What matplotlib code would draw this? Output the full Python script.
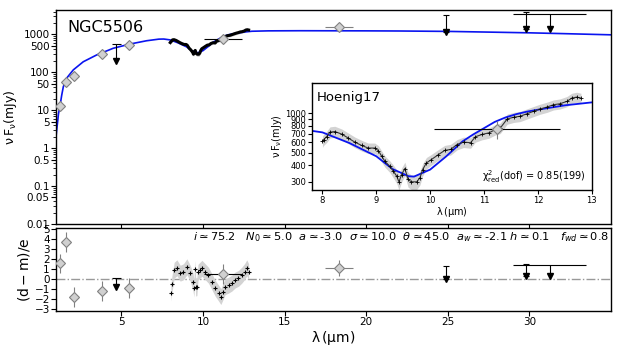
#!/usr/bin/env python3
"""
SED fit of NGC5506: photometry + spectrum with model, residuals below.
"""

import matplotlib
matplotlib.use('Agg')
import matplotlib.pyplot as plt
from matplotlib.ticker import FixedLocator, NullFormatter, NullLocator, LogLocator

# model curve (mJy)
model_wave = [1.0, 1.05, 1.1, 1.15, 1.24, 1.35, 1.45, 1.65, 2.06, 2.67, 3.49, 4.5, 5.53,
              6.55, 7.3, 7.6, 7.8, 8.0, 8.5, 9.0, 9.3, 9.6, 9.7, 10.0, 10.3, 10.6, 10.8,
              11.0, 11.2, 11.4, 11.6, 11.8, 12.0, 12.5, 13.0, 14.0, 16.0, 18.0, 20.0,
              22.0, 25.0, 28.0, 30.0, 32.0, 35.0]
model_flux = [2.0, 3.2, 5.0, 8.0, 12.6, 25, 42, 70, 116, 190, 287, 430, 557,
              680, 750, 755, 735, 715, 593, 470, 376, 331, 329, 372, 470, 610, 690,
              770, 860, 930, 985, 1030, 1065, 1150, 1211, 1240, 1250, 1245, 1240,
              1230, 1200, 1140, 1100, 1050, 975]

# spectrum (Hoenig17)
spec_wave = [8.00, 8.02, 8.08, 8.14, 8.23, 8.36, 8.48, 8.60, 8.73, 8.85, 8.97, 9.04, 9.10,
             9.16, 9.25, 9.31, 9.38, 9.42, 9.47, 9.53, 9.59, 9.65, 9.75, 9.81, 9.86, 9.93,
             10.02, 10.15, 10.27, 10.38, 10.50, 10.62, 10.75, 10.84, 10.96, 11.09, 11.21,
             11.30, 11.43, 11.55, 11.67, 11.80, 11.92, 12.04, 12.17, 12.29, 12.41, 12.54,
             12.63, 12.72, 12.80]
spec_flux = [610, 628, 665, 718, 726, 693, 647, 603, 568, 543, 543, 518, 470,
             430, 394, 365, 331, 300, 341, 379, 313, 300, 300, 322, 372, 418,
             443, 483, 521, 530, 578, 603, 596, 662, 689, 709, 751,
             770, 905, 933, 949, 993, 1035, 1078, 1116, 1162, 1182, 1233,
             1306, 1329, 1306]
spec_err = [60, 60, 65, 70, 70, 65, 60, 56, 53, 50, 50, 48, 45,
            42, 40, 40, 40, 40, 42, 45, 40, 38, 38, 38, 40, 42,
            42, 45, 48, 50, 52, 55, 55, 60, 62, 64, 68,
            70, 80, 82, 85, 88, 92, 95, 100, 102, 105, 110,
            115, 118, 115]

# photometry
phot_wave = [1.24, 1.59, 2.12, 3.8, 5.47, 11.25, 18.35]
phot_flux = [13, 55, 81, 300, 520, 757, 1530]
phot_yerr = [1.3, 5.5, 8, 30, 52, 120, 150]
phot_xerr = [0.0, 0.0, 0.0, 0.25, 0.0, 1.17, 0.85]
phot_xcol = ['gray', 'gray', 'gray', 'gray', 'gray', 'black', 'gray']

# upper limits: top of bar, arrow tip, half width
lim_wave = [4.7, 24.9, 29.8, 31.25]
lim_top = [556, 3200, 4000, 3550]
lim_tip = [200, 1150, 1380, 1380]
lim_xerr = [0.3, 0.0, 0.0, 2.25]

# residuals (d - m)/e
res_phot = [1.58, 3.74, -1.8, -1.18, -0.91, 0.52, 1.15]
res_phot_err = [1.0, 1.0, 1.0, 1.0, 1.0, 1.0, 0.8]
res_lim_top = [0.1, 1.3, 1.55, 1.4]
res_lim_tip = [-0.8, 0.0, 0.3, 0.3]

res_spec_wave = [8.04, 8.10, 8.24, 8.41, 8.61, 8.81, 9.02, 9.22, 9.39, 9.45, 9.50, 9.56,
                 9.63, 9.70, 9.82, 9.94, 10.14, 10.34, 10.55, 10.75, 10.96, 11.10, 11.22,
                 11.36, 11.57, 11.77, 11.98, 12.18, 12.38, 12.55, 12.69, 12.80]
res_spec = [-1.4, -0.5, 0.9, 1.15, 0.6, 0.75, 1.25, 0.6, -0.25, -0.9, 1.0, -0.8,
            -0.75, 0.7, 0.9, 1.1, 0.75, 0.4, -0.25, -0.9, -1.4, -1.75, -1.3,
            -0.75, -0.6, -0.4, -0.08, 0.08, 0.4, 0.75, 1.15, 0.75]
res_spec_err = [0.8, 0.8, 0.8, 0.8, 0.8, 0.8, 0.8, 0.8, 0.9, 0.9, 0.9, 0.9,
                0.9, 0.8, 0.8, 0.8, 0.8, 0.8, 0.8, 0.8, 0.8, 0.8, 0.8,
                0.8, 0.8, 0.8, 0.8, 0.8, 0.8, 0.8, 0.8, 0.8]

main_yticks = [0.01, 0.05, 0.1, 0.5, 1, 5, 10, 50, 100, 500, 1000]
main_ylabels = ['0.01', '0.05', '0.1', '0.5', '1', '5', '10', '50', '100', '500', '1000']
inset_yticks = [300, 400, 500, 600, 700, 800, 900, 1000]
params_text = (r"$i\simeq75.2$   $N_0\simeq5.0$  $a\simeq$-3.0  $\sigma\simeq10.0$  "
               r"$\theta\simeq45.0$  $a_w\simeq$-2.1 $h\simeq0.1$   $f_{wd}\simeq0.8$")

BLUE = '#0a14f0'
DFACE = '#d0d0d0'
DEDGE = '#808080'


def draw_limits(ax, tops, tips):
    for x, top, tip, xe in zip(lim_wave, tops, tips, lim_xerr):
        ax.errorbar(x, top, xerr=xe if xe > 0 else None, yerr=[[top - tip], [0]],
                    fmt='none', ecolor='k', elinewidth=0.8,
                    capsize=0 if xe > 0 else 2, capthick=0.8)
        ax.plot(x, tip, 'v', color='k', ms=4.5)


def draw_phot(ax, yvals, yerrs):
    for x, y, ye, xe, c in zip(phot_wave, yvals, yerrs, phot_xerr, phot_xcol):
        ax.errorbar(x, y, yerr=ye, fmt='none', ecolor='gray', elinewidth=0.8)
        if xe > 0:
            ax.errorbar(x, y, xerr=xe, fmt='none', ecolor=c, elinewidth=0.8)
    ax.plot(phot_wave, yvals, 'D', mfc=DFACE, mec=DEDGE, ms=5, mew=0.8, ls='none', zorder=5)


fig = plt.figure(figsize=(6.23, 3.46), dpi=100)
ax = fig.add_axes([0.0899, 0.3526, 0.8908, 0.6185])
axr = fig.add_axes([0.0899, 0.1012, 0.8908, 0.2384])

# top panel
lo = [f - e for f, e in zip(spec_flux, spec_err)]
hi = [f + e for f, e in zip(spec_flux, spec_err)]
ax.fill_between(spec_wave, lo, hi, color='#d3d3d3', lw=0, zorder=1)
ax.plot(spec_wave, spec_flux, '-', color='k', lw=2.2, zorder=3)
ax.plot(model_wave, model_flux, '-', color=BLUE, lw=1.2, zorder=2)
draw_phot(ax, phot_flux, phot_yerr)
draw_limits(ax, lim_top, lim_tip)

ax.set_yscale('log')
ax.set_xlim(1, 35)
ax.set_ylim(0.01, 4400)
ax.yaxis.set_major_locator(FixedLocator(main_yticks))
ax.set_yticklabels(main_ylabels)
ax.yaxis.set_minor_locator(LogLocator(base=10, subs=range(2, 10), numticks=20))
ax.yaxis.set_minor_formatter(NullFormatter())
ax.set_xticks([5, 10, 15, 20, 25, 30])
ax.tick_params(axis='x', labelbottom=False, length=3.5)
ax.tick_params(axis='y', labelsize=7.5, length=3.5, pad=1)
ax.tick_params(axis='y', which='minor', length=2)
ax.set_ylabel(r'$\mathregular{\nu\, F_\nu}$(mJy)', fontsize=9)
ax.yaxis.set_label_coords(-0.066, 0.5)
ax.text(0.02, 0.955, 'NGC5506', transform=ax.transAxes, fontsize=11.5, va='top', ha='left')

# inset
axi = fig.add_axes([0.5003, 0.4509, 0.4495, 0.309])
axi.fill_between(spec_wave, lo, hi, color='#d3d3d3', lw=0, zorder=1)
axi.plot(spec_wave, spec_flux, '-', color='#333333', lw=0.8, zorder=3)
axi.plot(spec_wave, spec_flux, '+', color='k', ms=2.5, mew=0.6, zorder=3)
axi.plot(model_wave, model_flux, '-', color=BLUE, lw=1.3, zorder=2)
axi.errorbar(phot_wave[5], phot_flux[5], yerr=phot_yerr[5], fmt='none', ecolor='gray', elinewidth=0.8)
axi.errorbar(phot_wave[5], phot_flux[5], xerr=phot_xerr[5], fmt='none', ecolor='k', elinewidth=0.8)
axi.plot(phot_wave[5], phot_flux[5], 'D', mfc=DFACE, mec=DEDGE, ms=5, mew=0.8, zorder=5)
axi.set_yscale('log')
axi.set_xlim(7.8, 13)
axi.set_ylim(260, 1700)
axi.yaxis.set_major_locator(FixedLocator(inset_yticks))
axi.set_yticklabels([str(v) for v in inset_yticks])
axi.yaxis.set_minor_locator(NullLocator())
axi.set_xticks([8, 9, 10, 11, 12, 13])
axi.tick_params(labelsize=6, length=3, pad=1)
axi.set_xlabel(r'$\mathregular{\lambda\,(\mu m)}$', fontsize=7, labelpad=0)
axi.set_ylabel(r'$\mathregular{\nu\, F_\nu}$(mJy)', fontsize=7, labelpad=1)
axi.text(0.018, 0.93, 'Hoenig17', transform=axi.transAxes, fontsize=9.5, va='top', ha='left')
axi.text(0.98, 0.05, r'$\mathregular{\chi^2_{red}}$(dof) = 0.85(199)', transform=axi.transAxes,
         fontsize=7, va='bottom', ha='right')

# residual panel
rlo = [r - e for r, e in zip(res_spec, res_spec_err)]
rhi = [r + e for r, e in zip(res_spec, res_spec_err)]
axr.axhline(0, color='#999999', lw=1.0, ls='-.', zorder=0)
axr.fill_between(res_spec_wave, rlo, rhi, color='#d3d3d3', lw=0, zorder=1)
axr.plot(res_spec_wave, res_spec, '+', color='k', ms=3, mew=0.8, zorder=3)
draw_phot(axr, res_phot, res_phot_err)
draw_limits(axr, res_lim_top, res_lim_tip)
axr.set_xlim(1, 35)
axr.set_ylim(-3.2, 5.1)
axr.set_yticks(range(-3, 6))
axr.set_xticks([5, 10, 15, 20, 25, 30])
axr.tick_params(labelsize=7.5, length=3.5, pad=1)
axr.set_xlabel(r'$\mathregular{\lambda\,(\mu m)}$', fontsize=10, labelpad=1)
axr.set_ylabel(r'$\mathregular{(d-m)/e}$', fontsize=10)
axr.yaxis.set_label_coords(-0.044, 0.5)
axr.text(0.997, 0.985, params_text, transform=axr.transAxes, fontsize=8.2, va='top', ha='right')

for a in (ax, axr, axi):
    for s in a.spines.values():
        s.set_linewidth(1.0)

fig.savefig('out.png', dpi=100)
